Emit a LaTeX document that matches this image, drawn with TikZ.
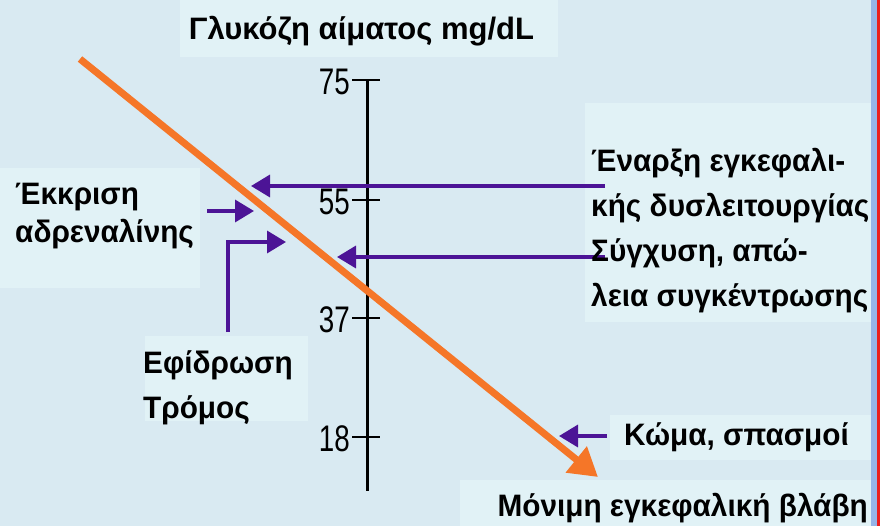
\documentclass[tikz,border=0pt]{standalone}
\usepackage{fontspec}
\setmainfont{Liberation Sans}
\newfontfamily\tickfont{Liberation Sans}[FakeStretch=0.75]
\newfontfamily\lblfont{Liberation Sans}[FakeStretch=0.96]
\usetikzlibrary{arrows.meta}
\definecolor{bgblue}{RGB}{217,234,242}
\definecolor{boxblue}{RGB}{225,242,246}
\definecolor{edgeblue}{RGB}{150,180,232}
\definecolor{edgered}{RGB}{235,30,30}
\definecolor{orangearrow}{RGB}{245,118,40}
\definecolor{purplearrow}{RGB}{76,20,150}
\tikzset{
  lbl/.style={inner sep=0pt, font=\lblfont\bfseries\fontsize{31}{45}\selectfont, align=left},
  ticklbl/.style={inner sep=0pt, anchor=east, font=\tickfont\fontsize{37}{37}\selectfont},
  tickmark/.style={line width=2pt, black},
  axisline/.style={line width=3pt, black},
  parrow/.style={line width=3.5pt, purplearrow, -{Triangle[length=19pt,width=22pt]}},
  oarrow/.style={line width=7pt, orangearrow, -{Triangle[length=28pt,width=32pt]}},
  lightbox/.style={fill=boxblue, draw=none}
}
\begin{document}
\begin{tikzpicture}[x=1pt,y=-1pt]
\useasboundingbox (0,0) rectangle (880,526);
\fill[bgblue] (0,0) rectangle (880,526);
% lighter label panels
\fill[lightbox] (180,0) rectangle (558,57);
\fill[lightbox] (0,168) rectangle (200,288);
\fill[lightbox] (585,103) rectangle (872,322);
\fill[lightbox] (145,336) rectangle (308,421);
\fill[lightbox] (610,415) rectangle (872,460);
\fill[lightbox] (460,480) rectangle (872,526);
% right edge
\fill[edgeblue] (871,0) rectangle (877,526);
\fill[edgered] (877,0) rectangle (880,526);

% title
\node[lbl, anchor=base, font=\bfseries\fontsize{31}{31}\selectfont] (title) at (361.5,40) {Γλυκόζη αίματος mg/dL};

% axis
\coordinate (axtop) at (367,80);
\coordinate (axbot) at (367,491);
\draw[axisline] (axtop) -- (axbot);
\foreach \v/\yy in {75/80,55/200,37/318,18/437}{
  \coordinate (tl\v) at (352,\yy);
  \coordinate (tr\v) at (380,\yy);
  \draw[tickmark] (tl\v) -- (tr\v);
  \node[ticklbl] (t\v) at (350,\yy+2) {\v};
}

% orange arrow
\coordinate (os) at (80,59);
\coordinate (oe) at (598,477);
\draw[oarrow] (os) -- (oe);

% purple arrows
\coordinate (p1s) at (605,186);
\coordinate (p1e) at (251,186);
\draw[parrow] (p1s) -- (p1e);
\coordinate (p2s) at (605,257);
\coordinate (p2e) at (337,257);
\draw[parrow] (p2s) -- (p2e);
\coordinate (p3s) at (207,211);
\coordinate (p3e) at (254,211);
\draw[parrow] (p3s) -- (p3e);
\coordinate (p4s) at (228,332);
\coordinate (p4e) at (286,242);
\draw[parrow] (p4s) |- (p4e);
\coordinate (p5s) at (607,436);
\coordinate (p5e) at (559,436);
\draw[parrow] (p5s) -- (p5e);

% labels (base anchor = baseline of last line)
\node[lbl, anchor=base west, font=\lblfont\bfseries\fontsize{31}{38}\selectfont] (ekk) at (15,243) {Έκκριση\\αδρεναλίνης};
\node[lbl, anchor=base west] (enar) at (591,307) {Έναρξη εγκεφαλι-\\κής δυσλειτουργίας\\Σύγχυση, απώ-\\λεια συγκέντρωσης};
\node[lbl, anchor=base west] (efid) at (143,418) {Εφίδρωση\\Τρόμος};
\node[lbl, anchor=base west] (koma) at (624,445) {Κώμα, σπασμοί};
\node[lbl, anchor=base east] (monimi) at (868,516) {Μόνιμη εγκεφαλική βλάβη};
\end{tikzpicture}
\end{document}
